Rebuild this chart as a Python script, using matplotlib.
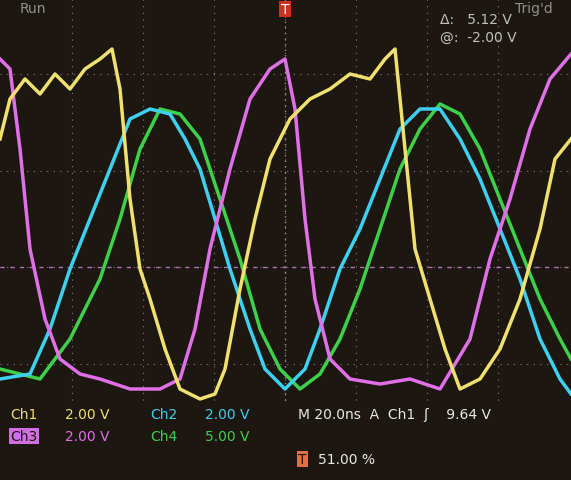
import matplotlib
matplotlib.use("Agg")
import matplotlib.pyplot as plt

yel_x=[0,10,25,40,55,70,85,100,112,120,130,140,150,165,180,200,215,225,240,255,270,290,310,330,350,370,385,395,405,415,430,445,460,480,500,520,540,555,571]
yel_y=[140,100,80,95,75,90,70,60,50,90,200,270,300,350,390,400,395,370,290,220,160,120,100,90,75,80,60,50,150,250,300,350,390,380,350,300,230,160,140]
cy_x=[0,30,50,70,90,110,130,150,170,185,200,215,230,250,265,285,305,320,340,360,380,400,420,440,460,480,500,520,540,560,571]
cy_y=[380,375,330,270,220,170,120,110,115,140,170,220,270,330,370,390,370,330,270,230,180,130,110,110,140,180,230,280,340,380,395]
gr_x=[0,40,70,100,120,140,160,180,200,220,240,260,280,300,320,340,360,380,400,420,440,460,480,500,520,540,560,571]
gr_y=[370,380,340,280,220,150,110,115,140,200,260,330,370,390,375,340,290,230,170,130,105,115,150,200,250,300,340,360]
mg_x=[0,10,20,30,45,60,80,100,130,160,180,195,210,230,250,270,285,295,305,315,330,350,380,410,440,470,490,510,530,550,571]
mg_y=[60,70,150,250,320,360,375,380,390,390,380,330,250,170,100,70,60,110,220,300,360,380,385,380,390,340,260,200,130,80,55]

fig=plt.figure(figsize=(5.71,4.81),dpi=100)
ax=fig.add_axes([0,0,1,1])
ax.set_xlim(0,571); ax.set_ylim(481,0); ax.axis('off')
fig.patch.set_facecolor('#1c1710')
ax.add_patch(plt.Rectangle((0,0),571,481,color='#1c1710',zorder=0))
for yy in [75,172,268,365]:
    ax.plot([0,571],[yy,yy],ls=(0,(1,5)),color='#8a7a90',lw=0.8)
for xx in [72,143,214,285,356,427,498]:
    ax.plot([xx,xx],[0,405],ls=(0,(1,5)),color='#8a7a90',lw=0.8)
ax.plot([0,571],[268,268],ls=(0,(3,4)),color='#b070c0',lw=1)
ax.plot([285,285],[0,405],ls=(0,(1,3)),color='#9a8a90',lw=1)
for x,y,c in [(gr_x,gr_y,'#3ed04a'),(cy_x,cy_y,'#3ed0f0'),(mg_x,mg_y,'#e070e8'),(yel_x,yel_y,'#f0e070')]:
    ax.plot(x,y,color=c,lw=2.5)
ax.add_patch(plt.Rectangle((0,405),571,76,color='#1c1710',zorder=3))
t=dict(fontsize=10,zorder=4,va='center')
ax.text(10,415,'Ch1',color='#f0e070',**t); ax.text(65,415,'2.00 V',color='#f0e070',**t)
ax.text(150,415,'Ch2',color='#3ed0f0',**t); ax.text(205,415,'2.00 V',color='#3ed0f0',**t)
ax.text(10,437,'Ch3',color='#1c1710',bbox=dict(fc='#d070e0',ec='none',pad=1),**t); ax.text(65,437,'2.00 V',color='#e070e8',**t)
ax.text(150,437,'Ch4',color='#3ed04a',**t); ax.text(205,437,'5.00 V',color='#3ed04a',**t)
ax.text(298,415,'M 20.0ns  A  Ch1  ʃ    9.64 V',color='#e8e8e8',**t)
ax.text(298,460,'T',color='#1c1710',bbox=dict(fc='#e07040',ec='none',pad=1),**t)
ax.text(318,460,'51.00 %',color='#e8e8e8',**t)
ax.text(440,20,'Δ:   5.12 V',color='#c0c0c0',**t); ax.text(440,38,'@:  -2.00 V',color='#c0c0c0',**t)
ax.text(20,9,'Run',color='#909090',**t); ax.text(515,9,"Trig'd",color='#909090',**t)
ax.text(285,10,'T',color='white',ha='center',bbox=dict(fc='#d03020',ec='none',pad=1),**t)
fig.savefig('out.png',dpi=100,facecolor=fig.get_facecolor())
